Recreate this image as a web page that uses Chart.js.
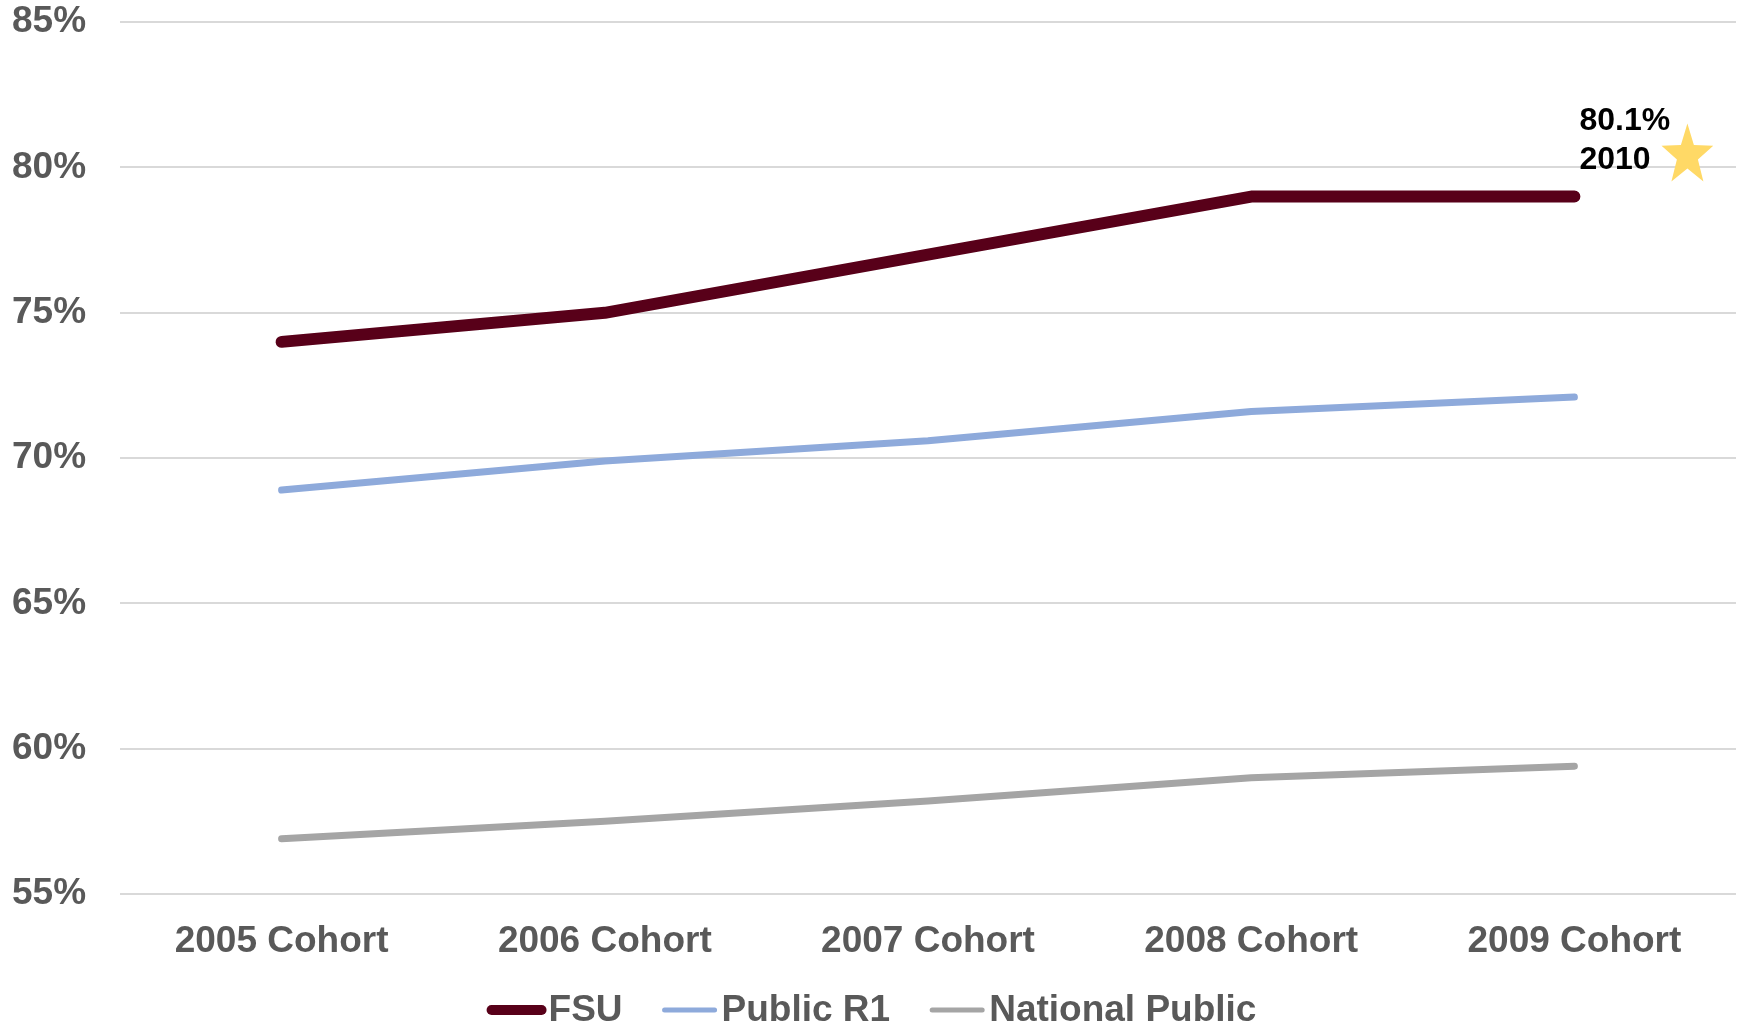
<!DOCTYPE html>
<html>
<head>
<meta charset="utf-8">
<style>
  html, body { margin: 0; padding: 0; background: #fff; }
  #wrap { width: 1739px; height: 1025px; }
</style>
<script src="https://cdn.jsdelivr.net/npm/chart.js@4"></script>
</head>
<body>
<div id="wrap"><canvas id="myChart"></canvas></div>
<script>
const labels = ["2005 Cohort", "2006 Cohort", "2007 Cohort", "2008 Cohort", "2009 Cohort"];
const fsu = [74.0, 75.0, 77.0, 79.0, 79.0];
const publicR1 = [68.9, 69.9, 70.6, 71.6, 72.1];
const nationalPublic = [56.9, 57.5, 58.2, 59.0, 59.4];
const noteLines = ["80.1%", "2010"];
const noteValue = 80.1;

const font = "'Liberation Sans', Arial, sans-serif";
const grey = "#595959";

// callout next to the last point + hand-drawn legend
const extras = {
  id: "extras",
  afterDraw(chart) {
    const { ctx } = chart;
    const x = chart.scales.x.getPixelForValue(4);
    const y = chart.scales.y.getPixelForValue(noteValue);
    ctx.save();
    ctx.fillStyle = "#000";
    ctx.font = "bold 32px " + font;
    ctx.textBaseline = "middle";
    ctx.fillText(noteLines[0], x + 5, y - 43);
    ctx.fillText(noteLines[1], x + 5, y - 4);

    // star
    const cx = x + 113, cy = y - 9, R = 32, r = 13;
    ctx.beginPath();
    for (let i = 0; i < 10; i++) {
      const a = -Math.PI / 2 + (i * Math.PI) / 5;
      const rr = i % 2 ? r : R;
      const px = cx + Math.cos(a) * rr * 0.85;
      const py = cy + Math.sin(a) * rr;
      i ? ctx.lineTo(px, py) : ctx.moveTo(px, py);
    }
    ctx.closePath();
    ctx.fillStyle = "#FFD966";
    ctx.fill();

    // legend
    ctx.font = "bold 37px " + font;
    const lineW = 60, gapTxt = 2, gapItem = 37;
    const items = chart.data.datasets.map((ds) => ({
      ds,
      w: lineW + gapTxt + ctx.measureText(ds.label).width,
    }));
    const total = items.reduce((s, it) => s + it.w, 0) + gapItem * (items.length - 1);
    let lx = chart.width / 2 - total / 2 + 2;
    const ly = 1010;
    items.forEach((it) => {
      ctx.strokeStyle = it.ds.borderColor;
      ctx.lineWidth = it.ds.borderWidth - 2;
      ctx.lineCap = "round";
      ctx.beginPath();
      ctx.moveTo(lx + 5, ly);
      ctx.lineTo(lx + lineW - 5, ly);
      ctx.stroke();
      ctx.fillStyle = grey;
      ctx.fillText(it.ds.label, lx + lineW + gapTxt, ly + 1);
      lx += it.w + gapItem;
    });
    ctx.restore();
  },
};

const ctx = document.getElementById("myChart").getContext("2d");
const myChart = new Chart(ctx, {
  type: "line",
  data: {
    labels: labels,
    datasets: [
      {
        label: "FSU",
        data: fsu,
        borderColor: "#580019",
        borderWidth: 12,
      },
      {
        label: "Public R1",
        data: publicR1,
        borderColor: "#8EAADB",
        borderWidth: 7,
      },
      {
        label: "National Public",
        data: nationalPublic,
        borderColor: "#A5A5A5",
        borderWidth: 7,
      },
    ],
  },
  options: {
    responsive: true,
    maintainAspectRatio: false,
    animation: false,
    elements: {
      point: { radius: 0 },
      line: { tension: 0, borderCapStyle: "round", borderJoinStyle: "round" },
    },
    layout: { padding: { left: 12, right: 3, top: 22, bottom: 64 } },
    plugins: { legend: { display: false }, tooltip: { enabled: false } },
    scales: {
      x: {
        offset: true,
        grid: { display: false },
        border: { display: false },
        afterFit: (scale) => { scale.height = 67; },
        ticks: {
          color: grey,
          padding: 18,
          maxRotation: 0,
          font: { family: font, size: 37, weight: "bold" },
        },
      },
      y: {
        min: 55,
        max: 85,
        grid: { color: "#D9D9D9", lineWidth: 2, drawTicks: false },
        border: { display: false },
        afterFit: (scale) => { scale.width = 108; },
        ticks: {
          stepSize: 5,
          color: grey,
          padding: 0,
          crossAlign: "far",
          font: { family: font, size: 37, weight: "bold" },
          callback: (v) => v + "%",
        },
      },
    },
  },
  plugins: [extras],
});
</script>
</body>
</html>
